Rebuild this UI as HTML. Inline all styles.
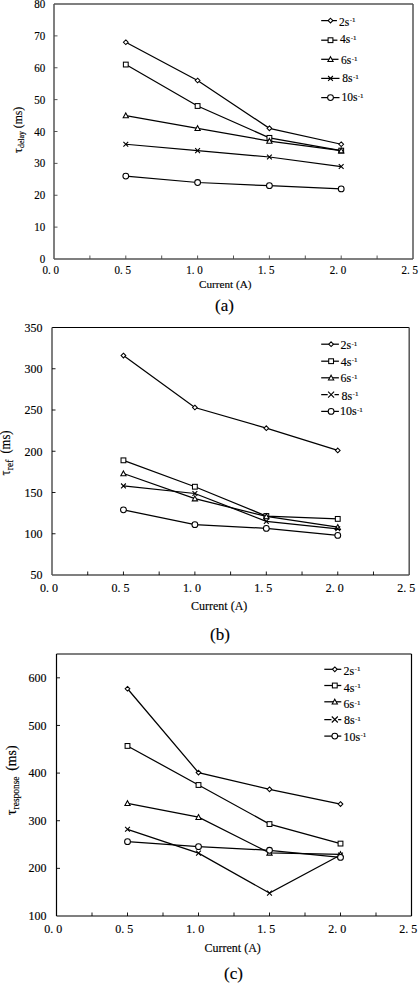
<!DOCTYPE html>
<html><head><meta charset="utf-8"><style>
html,body{margin:0;padding:0;background:#fff;}
body{width:419px;height:985px;overflow:hidden;}
svg{display:block;font-family:"Liberation Serif", serif;}
text{stroke:#000;stroke-width:0.15px;}
</style></head><body>
<svg width="419" height="985" viewBox="0 0 419 985" fill="#000">
<path d="M125.80 42.25L197.60 80.50L269.40 128.31L341.20 144.25" fill="none" stroke="#000" stroke-width="1.25"/>
<path d="M125.80 39.90L128.15 42.25L125.80 44.60L123.45 42.25Z" fill="#fff" stroke="#000" stroke-width="1.05"/>
<path d="M197.60 78.15L199.95 80.50L197.60 82.85L195.25 80.50Z" fill="#fff" stroke="#000" stroke-width="1.05"/>
<path d="M269.40 125.96L271.75 128.31L269.40 130.66L267.05 128.31Z" fill="#fff" stroke="#000" stroke-width="1.05"/>
<path d="M341.20 141.90L343.55 144.25L341.20 146.60L338.85 144.25Z" fill="#fff" stroke="#000" stroke-width="1.05"/>
<path d="M125.80 64.56L197.60 106.00L269.40 137.88L341.20 150.62" fill="none" stroke="#000" stroke-width="1.25"/>
<rect x="123.40" y="62.16" width="4.80" height="4.80" fill="#fff" stroke="#000" stroke-width="1.05"/>
<rect x="195.20" y="103.60" width="4.80" height="4.80" fill="#fff" stroke="#000" stroke-width="1.05"/>
<rect x="267.00" y="135.47" width="4.80" height="4.80" fill="#fff" stroke="#000" stroke-width="1.05"/>
<rect x="338.80" y="148.22" width="4.80" height="4.80" fill="#fff" stroke="#000" stroke-width="1.05"/>
<path d="M125.80 115.56L197.60 128.31L269.40 141.06L341.20 150.62" fill="none" stroke="#000" stroke-width="1.25"/>
<path d="M125.80 112.91L128.45 117.81L123.15 117.81Z" fill="#fff" stroke="#000" stroke-width="1.05"/>
<path d="M197.60 125.66L200.25 130.56L194.95 130.56Z" fill="#fff" stroke="#000" stroke-width="1.05"/>
<path d="M269.40 138.41L272.05 143.31L266.75 143.31Z" fill="#fff" stroke="#000" stroke-width="1.05"/>
<path d="M341.20 147.97L343.85 152.88L338.55 152.88Z" fill="#fff" stroke="#000" stroke-width="1.05"/>
<path d="M125.80 144.25L197.60 150.62L269.40 157.00L341.20 166.56" fill="none" stroke="#000" stroke-width="1.25"/>
<path d="M123.40 141.85L128.20 146.65M128.20 141.85L123.40 146.65" fill="none" stroke="#000" stroke-width="1.1"/>
<path d="M195.20 148.22L200.00 153.03M200.00 148.22L195.20 153.03" fill="none" stroke="#000" stroke-width="1.1"/>
<path d="M267.00 154.60L271.80 159.40M271.80 154.60L267.00 159.40" fill="none" stroke="#000" stroke-width="1.1"/>
<path d="M338.80 164.16L343.60 168.96M343.60 164.16L338.80 168.96" fill="none" stroke="#000" stroke-width="1.1"/>
<path d="M125.80 176.12L197.60 182.50L269.40 185.69L341.20 188.88" fill="none" stroke="#000" stroke-width="1.25"/>
<circle cx="125.80" cy="176.12" r="2.90" fill="#fff" stroke="#000" stroke-width="1.05"/>
<circle cx="197.60" cy="182.50" r="2.90" fill="#fff" stroke="#000" stroke-width="1.05"/>
<circle cx="269.40" cy="185.69" r="2.90" fill="#fff" stroke="#000" stroke-width="1.05"/>
<circle cx="341.20" cy="188.88" r="2.90" fill="#fff" stroke="#000" stroke-width="1.05"/>
<path d="M54 4H413" stroke="#555" stroke-width="1.5" fill="none"/>
<path d="M54 259H413" stroke="#555" stroke-width="1.5" fill="none"/>
<path d="M54 4V259" stroke="#555" stroke-width="1.5" fill="none"/>
<path d="M413 4V259" stroke="#555" stroke-width="1.5" fill="none"/>
<text transform="translate(45.30 263.10) scale(1 1.1)" text-anchor="end" font-size="11">0</text>
<path d="M54 227.12h3.5" stroke="#444" stroke-width="0.9" fill="none"/>
<text transform="translate(45.30 231.22) scale(1 1.1)" text-anchor="end" font-size="11">10</text>
<path d="M54 195.25h3.5" stroke="#444" stroke-width="0.9" fill="none"/>
<text transform="translate(45.30 199.35) scale(1 1.1)" text-anchor="end" font-size="11">20</text>
<path d="M54 163.38h3.5" stroke="#444" stroke-width="0.9" fill="none"/>
<text transform="translate(45.30 167.47) scale(1 1.1)" text-anchor="end" font-size="11">30</text>
<path d="M54 131.50h3.5" stroke="#444" stroke-width="0.9" fill="none"/>
<text transform="translate(45.30 135.60) scale(1 1.1)" text-anchor="end" font-size="11">40</text>
<path d="M54 99.62h3.5" stroke="#444" stroke-width="0.9" fill="none"/>
<text transform="translate(45.30 103.72) scale(1 1.1)" text-anchor="end" font-size="11">50</text>
<path d="M54 67.75h3.5" stroke="#444" stroke-width="0.9" fill="none"/>
<text transform="translate(45.30 71.85) scale(1 1.1)" text-anchor="end" font-size="11">60</text>
<path d="M54 35.88h3.5" stroke="#444" stroke-width="0.9" fill="none"/>
<text transform="translate(45.30 39.98) scale(1 1.1)" text-anchor="end" font-size="11">70</text>
<text transform="translate(45.30 8.10) scale(1 1.1)" text-anchor="end" font-size="11">80</text>
<path d="M89.90 259v-3.5" stroke="#444" stroke-width="0.9" fill="none"/>
<path d="M125.80 259v-3.5" stroke="#444" stroke-width="0.9" fill="none"/>
<path d="M161.70 259v-3.5" stroke="#444" stroke-width="0.9" fill="none"/>
<path d="M197.60 259v-3.5" stroke="#444" stroke-width="0.9" fill="none"/>
<path d="M233.50 259v-3.5" stroke="#444" stroke-width="0.9" fill="none"/>
<path d="M269.40 259v-3.5" stroke="#444" stroke-width="0.9" fill="none"/>
<path d="M305.30 259v-3.5" stroke="#444" stroke-width="0.9" fill="none"/>
<path d="M341.20 259v-3.5" stroke="#444" stroke-width="0.9" fill="none"/>
<path d="M377.10 259v-3.5" stroke="#444" stroke-width="0.9" fill="none"/>
<text transform="translate(42.60 274.30) scale(1 1.1)" font-size="11" xml:space="preserve">0. 0</text>
<text transform="translate(114.40 274.30) scale(1 1.1)" font-size="11" xml:space="preserve">0. 5</text>
<text transform="translate(186.20 274.30) scale(1 1.1)" font-size="11" xml:space="preserve">1. 0</text>
<text transform="translate(258.00 274.30) scale(1 1.1)" font-size="11" xml:space="preserve">1. 5</text>
<text transform="translate(329.80 274.30) scale(1 1.1)" font-size="11" xml:space="preserve">2. 0</text>
<text transform="translate(401.60 274.30) scale(1 1.1)" font-size="11" xml:space="preserve">2. 5</text>
<text x="199" y="287.5" font-size="11.2">Current (A)</text>
<text x="215" y="311" font-size="17">(a)</text>
<text transform="translate(21.6,153.1) rotate(-90) scale(1 1.08)" font-size="12" xml:space="preserve">&#964;<tspan font-size="7.8" dy="2.5" dx="0.3">delay</tspan><tspan font-size="11.7" dy="-2.5" dx="0"> (ms)</tspan></text>
<path d="M321.2 20.6H336.9" stroke="#000" stroke-width="1.25" fill="none"/>
<path d="M330.50 18.25L332.85 20.60L330.50 22.95L328.15 20.60Z" fill="#fff" stroke="#000" stroke-width="1.05"/>
<text x="339.0" y="25.5" font-size="11.5">2s<tspan font-size="7" dy="-3.1" dx="0.4">-1</tspan></text>
<path d="M321.2 40.2H337.4" stroke="#000" stroke-width="1.25" fill="none"/>
<rect x="328.10" y="37.80" width="4.80" height="4.80" fill="#fff" stroke="#000" stroke-width="1.05"/>
<text x="340.1" y="42.900000000000006" font-size="11.5">4s<tspan font-size="7" dy="-3.1" dx="0.4">-1</tspan></text>
<path d="M321.2 59.3H338.5" stroke="#000" stroke-width="1.25" fill="none"/>
<path d="M330.50 56.65L333.15 61.55L327.85 61.55Z" fill="#fff" stroke="#000" stroke-width="1.05"/>
<text x="341.1" y="63.599999999999994" font-size="11.5">6s<tspan font-size="7" dy="-3.1" dx="0.4">-1</tspan></text>
<path d="M321.2 78.4H339.5" stroke="#000" stroke-width="1.25" fill="none"/>
<path d="M328.10 76.00L332.90 80.80M332.90 76.00L328.10 80.80" fill="none" stroke="#000" stroke-width="1.1"/>
<text x="342.3" y="81.80000000000001" font-size="11.5">8s<tspan font-size="7" dy="-3.1" dx="0.4">-1</tspan></text>
<path d="M321.2 97.6H339.5" stroke="#000" stroke-width="1.25" fill="none"/>
<circle cx="330.50" cy="97.60" r="2.90" fill="#fff" stroke="#000" stroke-width="1.05"/>
<text x="341.4" y="100.69999999999999" font-size="11.5">10s<tspan font-size="7" dy="-3.1" dx="0.4">-1</tspan></text>
<path d="M123.44 355.55L194.88 407.52L266.32 428.15L337.76 450.43" fill="none" stroke="#000" stroke-width="1.25"/>
<path d="M123.44 353.20L125.79 355.55L123.44 357.90L121.09 355.55Z" fill="#fff" stroke="#000" stroke-width="1.05"/>
<path d="M194.88 405.17L197.23 407.52L194.88 409.88L192.53 407.52Z" fill="#fff" stroke="#000" stroke-width="1.05"/>
<path d="M266.32 425.80L268.67 428.15L266.32 430.50L263.97 428.15Z" fill="#fff" stroke="#000" stroke-width="1.05"/>
<path d="M337.76 448.07L340.11 450.43L337.76 452.78L335.41 450.43Z" fill="#fff" stroke="#000" stroke-width="1.05"/>
<path d="M123.44 460.32L194.88 486.73L266.32 516.01L337.76 518.90" fill="none" stroke="#000" stroke-width="1.25"/>
<rect x="121.04" y="457.93" width="4.80" height="4.80" fill="#fff" stroke="#000" stroke-width="1.05"/>
<rect x="192.48" y="484.33" width="4.80" height="4.80" fill="#fff" stroke="#000" stroke-width="1.05"/>
<rect x="263.92" y="513.61" width="4.80" height="4.80" fill="#fff" stroke="#000" stroke-width="1.05"/>
<rect x="335.36" y="516.50" width="4.80" height="4.80" fill="#fff" stroke="#000" stroke-width="1.05"/>
<path d="M123.44 473.52L194.88 498.61L266.32 516.42L337.76 527.15" fill="none" stroke="#000" stroke-width="1.25"/>
<path d="M123.44 470.88L126.09 475.78L120.79 475.78Z" fill="#fff" stroke="#000" stroke-width="1.05"/>
<path d="M194.88 495.96L197.53 500.86L192.23 500.86Z" fill="#fff" stroke="#000" stroke-width="1.05"/>
<path d="M266.32 513.77L268.97 518.68L263.67 518.68Z" fill="#fff" stroke="#000" stroke-width="1.05"/>
<path d="M337.76 524.50L340.41 529.40L335.11 529.40Z" fill="#fff" stroke="#000" stroke-width="1.05"/>
<path d="M123.44 485.90L194.88 493.49L266.32 521.38L337.76 528.80" fill="none" stroke="#000" stroke-width="1.25"/>
<path d="M121.04 483.50L125.84 488.30M125.84 483.50L121.04 488.30" fill="none" stroke="#000" stroke-width="1.1"/>
<path d="M192.48 491.09L197.28 495.89M197.28 491.09L192.48 495.89" fill="none" stroke="#000" stroke-width="1.1"/>
<path d="M263.92 518.98L268.72 523.77M268.72 518.98L263.92 523.77" fill="none" stroke="#000" stroke-width="1.1"/>
<path d="M335.36 526.40L340.16 531.20M340.16 526.40L335.36 531.20" fill="none" stroke="#000" stroke-width="1.1"/>
<path d="M123.44 509.82L194.88 524.67L266.32 528.39L337.76 535.40" fill="none" stroke="#000" stroke-width="1.25"/>
<circle cx="123.44" cy="509.82" r="2.90" fill="#fff" stroke="#000" stroke-width="1.05"/>
<circle cx="194.88" cy="524.67" r="2.90" fill="#fff" stroke="#000" stroke-width="1.05"/>
<circle cx="266.32" cy="528.39" r="2.90" fill="#fff" stroke="#000" stroke-width="1.05"/>
<circle cx="337.76" cy="535.40" r="2.90" fill="#fff" stroke="#000" stroke-width="1.05"/>
<path d="M52 327.5H409.2" stroke="#000" stroke-width="1.2" fill="none"/>
<path d="M52 575H409.2" stroke="#555" stroke-width="1.5" fill="none"/>
<path d="M52 327.5V575" stroke="#555" stroke-width="1.5" fill="none"/>
<path d="M409.2 327.5V575" stroke="#555" stroke-width="1.5" fill="none"/>
<text transform="translate(42.40 579.30) scale(1 1.1)" text-anchor="end" font-size="12">50</text>
<path d="M52 533.75h3.5" stroke="#000" stroke-width="0.9" fill="none"/>
<text transform="translate(42.40 538.05) scale(1 1.1)" text-anchor="end" font-size="12">100</text>
<path d="M52 492.50h3.5" stroke="#000" stroke-width="0.9" fill="none"/>
<text transform="translate(42.40 496.80) scale(1 1.1)" text-anchor="end" font-size="12">150</text>
<path d="M52 451.25h3.5" stroke="#000" stroke-width="0.9" fill="none"/>
<text transform="translate(42.40 455.55) scale(1 1.1)" text-anchor="end" font-size="12">200</text>
<path d="M52 410.00h3.5" stroke="#000" stroke-width="0.9" fill="none"/>
<text transform="translate(42.40 414.30) scale(1 1.1)" text-anchor="end" font-size="12">250</text>
<path d="M52 368.75h3.5" stroke="#000" stroke-width="0.9" fill="none"/>
<text transform="translate(42.40 373.05) scale(1 1.1)" text-anchor="end" font-size="12">300</text>
<text transform="translate(42.40 331.80) scale(1 1.1)" text-anchor="end" font-size="12">350</text>
<path d="M87.72 575v-3.5" stroke="#000" stroke-width="0.9" fill="none"/>
<path d="M123.44 575v-3.5" stroke="#000" stroke-width="0.9" fill="none"/>
<path d="M159.16 575v-3.5" stroke="#000" stroke-width="0.9" fill="none"/>
<path d="M194.88 575v-3.5" stroke="#000" stroke-width="0.9" fill="none"/>
<path d="M230.60 575v-3.5" stroke="#000" stroke-width="0.9" fill="none"/>
<path d="M266.32 575v-3.5" stroke="#000" stroke-width="0.9" fill="none"/>
<path d="M302.04 575v-3.5" stroke="#000" stroke-width="0.9" fill="none"/>
<path d="M337.76 575v-3.5" stroke="#000" stroke-width="0.9" fill="none"/>
<path d="M373.48 575v-3.5" stroke="#000" stroke-width="0.9" fill="none"/>
<text transform="translate(40.00 591.80) scale(1 1.1)" font-size="12" xml:space="preserve">0. 0</text>
<text transform="translate(111.44 591.80) scale(1 1.1)" font-size="12" xml:space="preserve">0. 5</text>
<text transform="translate(182.88 591.80) scale(1 1.1)" font-size="12" xml:space="preserve">1. 0</text>
<text transform="translate(254.32 591.80) scale(1 1.1)" font-size="12" xml:space="preserve">1. 5</text>
<text transform="translate(325.76 591.80) scale(1 1.1)" font-size="12" xml:space="preserve">2. 0</text>
<text transform="translate(397.20 591.80) scale(1 1.1)" font-size="12" xml:space="preserve">2. 5</text>
<text x="191" y="610" font-size="12">Current (A)</text>
<text x="210" y="640" font-size="17">(b)</text>
<text transform="translate(9.6,475.5) rotate(-90) scale(1 1.08)" font-size="12.6" xml:space="preserve">&#964;<tspan font-size="9.4" dy="3.0" dx="0.3">ref</tspan><tspan font-size="12.6" dy="-3.0" dx="3"> (ms)</tspan></text>
<path d="M321.2 344.2H338.9" stroke="#000" stroke-width="1.25" fill="none"/>
<path d="M331.10 341.85L333.45 344.20L331.10 346.55L328.75 344.20Z" fill="#fff" stroke="#000" stroke-width="1.05"/>
<text x="340.4" y="349.3" font-size="12">2s<tspan font-size="7" dy="-3.4" dx="0.4">-1</tspan></text>
<path d="M321.2 361.2H338.9" stroke="#000" stroke-width="1.25" fill="none"/>
<rect x="328.70" y="358.80" width="4.80" height="4.80" fill="#fff" stroke="#000" stroke-width="1.05"/>
<text x="340.7" y="365.5" font-size="12">4s<tspan font-size="7" dy="-3.4" dx="0.4">-1</tspan></text>
<path d="M321.2 377.8H338.9" stroke="#000" stroke-width="1.25" fill="none"/>
<path d="M331.10 375.15L333.75 380.05L328.45 380.05Z" fill="#fff" stroke="#000" stroke-width="1.05"/>
<text x="340.6" y="382.3" font-size="12">6s<tspan font-size="7" dy="-3.4" dx="0.4">-1</tspan></text>
<path d="M321.2 394.6H327.70M334.50 394.6H338.9" stroke="#000" stroke-width="1.25" fill="none"/>
<path d="M328.10 391.60L334.10 397.60M334.10 391.60L328.10 397.60" fill="none" stroke="#000" stroke-width="1.1"/>
<text x="341.5" y="399.5" font-size="12">8s<tspan font-size="7" dy="-3.4" dx="0.4">-1</tspan></text>
<path d="M321.2 411.4H338.9" stroke="#000" stroke-width="1.25" fill="none"/>
<circle cx="331.10" cy="411.40" r="2.90" fill="#fff" stroke="#000" stroke-width="1.05"/>
<text x="339.9" y="415.4" font-size="12">10s<tspan font-size="7" dy="-3.4" dx="0.4">-1</tspan></text>
<path d="M127.50 688.77L198.50 772.61L269.50 789.29L340.50 804.05" fill="none" stroke="#000" stroke-width="1.25"/>
<path d="M127.50 686.42L129.85 688.77L127.50 691.12L125.15 688.77Z" fill="#fff" stroke="#000" stroke-width="1.05"/>
<path d="M198.50 770.26L200.85 772.61L198.50 774.96L196.15 772.61Z" fill="#fff" stroke="#000" stroke-width="1.05"/>
<path d="M269.50 786.94L271.85 789.29L269.50 791.64L267.15 789.29Z" fill="#fff" stroke="#000" stroke-width="1.05"/>
<path d="M340.50 801.70L342.85 804.05L340.50 806.40L338.15 804.05Z" fill="#fff" stroke="#000" stroke-width="1.05"/>
<path d="M127.50 745.94L198.50 785.00L269.50 824.06L340.50 843.59" fill="none" stroke="#000" stroke-width="1.25"/>
<rect x="125.10" y="743.54" width="4.80" height="4.80" fill="#fff" stroke="#000" stroke-width="1.05"/>
<rect x="196.10" y="782.60" width="4.80" height="4.80" fill="#fff" stroke="#000" stroke-width="1.05"/>
<rect x="267.10" y="821.66" width="4.80" height="4.80" fill="#fff" stroke="#000" stroke-width="1.05"/>
<rect x="338.10" y="841.19" width="4.80" height="4.80" fill="#fff" stroke="#000" stroke-width="1.05"/>
<path d="M127.50 803.34L198.50 817.15L269.50 852.88L340.50 854.31" fill="none" stroke="#000" stroke-width="1.25"/>
<path d="M127.50 800.69L130.15 805.59L124.85 805.59Z" fill="#fff" stroke="#000" stroke-width="1.05"/>
<path d="M198.50 814.50L201.15 819.41L195.85 819.41Z" fill="#fff" stroke="#000" stroke-width="1.05"/>
<path d="M269.50 850.23L272.15 855.13L266.85 855.13Z" fill="#fff" stroke="#000" stroke-width="1.05"/>
<path d="M340.50 851.66L343.15 856.56L337.85 856.56Z" fill="#fff" stroke="#000" stroke-width="1.05"/>
<path d="M127.50 829.30L198.50 853.12L269.50 893.13L340.50 855.03" fill="none" stroke="#000" stroke-width="1.25"/>
<path d="M125.10 826.90L129.90 831.70M129.90 826.90L125.10 831.70" fill="none" stroke="#000" stroke-width="1.1"/>
<path d="M196.10 850.72L200.90 855.52M200.90 850.72L196.10 855.52" fill="none" stroke="#000" stroke-width="1.1"/>
<path d="M267.10 890.73L271.90 895.53M271.90 890.73L267.10 895.53" fill="none" stroke="#000" stroke-width="1.1"/>
<path d="M338.10 852.63L342.90 857.43M342.90 852.63L338.10 857.43" fill="none" stroke="#000" stroke-width="1.1"/>
<path d="M127.50 841.69L198.50 846.69L269.50 850.26L340.50 857.41" fill="none" stroke="#000" stroke-width="1.25"/>
<circle cx="127.50" cy="841.69" r="2.90" fill="#fff" stroke="#000" stroke-width="1.05"/>
<circle cx="198.50" cy="846.69" r="2.90" fill="#fff" stroke="#000" stroke-width="1.05"/>
<circle cx="269.50" cy="850.26" r="2.90" fill="#fff" stroke="#000" stroke-width="1.05"/>
<circle cx="340.50" cy="857.41" r="2.90" fill="#fff" stroke="#000" stroke-width="1.05"/>
<path d="M56.5 654H411.5" stroke="#555" stroke-width="1.5" fill="none"/>
<path d="M56.5 916H411.5" stroke="#555" stroke-width="1.5" fill="none"/>
<path d="M56.5 654V916" stroke="#000" stroke-width="1.2" fill="none"/>
<path d="M411.5 654V916" stroke="#000" stroke-width="1.2" fill="none"/>
<text transform="translate(46.50 920.10) scale(1 1.1)" text-anchor="end" font-size="12">100</text>
<path d="M56.5 868.36h3.5" stroke="#000" stroke-width="0.9" fill="none"/>
<text transform="translate(46.50 872.46) scale(1 1.1)" text-anchor="end" font-size="12">200</text>
<path d="M56.5 820.73h3.5" stroke="#000" stroke-width="0.9" fill="none"/>
<text transform="translate(46.50 824.83) scale(1 1.1)" text-anchor="end" font-size="12">300</text>
<path d="M56.5 773.09h3.5" stroke="#000" stroke-width="0.9" fill="none"/>
<text transform="translate(46.50 777.19) scale(1 1.1)" text-anchor="end" font-size="12">400</text>
<path d="M56.5 725.45h3.5" stroke="#000" stroke-width="0.9" fill="none"/>
<text transform="translate(46.50 729.55) scale(1 1.1)" text-anchor="end" font-size="12">500</text>
<path d="M56.5 677.82h3.5" stroke="#000" stroke-width="0.9" fill="none"/>
<text transform="translate(46.50 681.92) scale(1 1.1)" text-anchor="end" font-size="12">600</text>
<path d="M92.00 916v-3.5" stroke="#000" stroke-width="0.9" fill="none"/>
<path d="M127.50 916v-3.5" stroke="#000" stroke-width="0.9" fill="none"/>
<path d="M163.00 916v-3.5" stroke="#000" stroke-width="0.9" fill="none"/>
<path d="M198.50 916v-3.5" stroke="#000" stroke-width="0.9" fill="none"/>
<path d="M234.00 916v-3.5" stroke="#000" stroke-width="0.9" fill="none"/>
<path d="M269.50 916v-3.5" stroke="#000" stroke-width="0.9" fill="none"/>
<path d="M305.00 916v-3.5" stroke="#000" stroke-width="0.9" fill="none"/>
<path d="M340.50 916v-3.5" stroke="#000" stroke-width="0.9" fill="none"/>
<path d="M376.00 916v-3.5" stroke="#000" stroke-width="0.9" fill="none"/>
<text transform="translate(44.20 932.50) scale(1 1.1)" font-size="12" xml:space="preserve">0. 0</text>
<text transform="translate(115.20 932.50) scale(1 1.1)" font-size="12" xml:space="preserve">0. 5</text>
<text transform="translate(186.20 932.50) scale(1 1.1)" font-size="12" xml:space="preserve">1. 0</text>
<text transform="translate(257.20 932.50) scale(1 1.1)" font-size="12" xml:space="preserve">1. 5</text>
<text transform="translate(328.20 932.50) scale(1 1.1)" font-size="12" xml:space="preserve">2. 0</text>
<text transform="translate(399.20 932.50) scale(1 1.1)" font-size="12" xml:space="preserve">2. 5</text>
<text x="204.5" y="951.7" font-size="12">Current (A)</text>
<text x="224" y="979" font-size="17">(c)</text>
<text transform="translate(15.9,815.3) rotate(-90) scale(1 1.08)" font-size="14" xml:space="preserve">&#964;<tspan font-size="9.4" dy="3.0" dx="0.3">response</tspan><tspan font-size="13.8" dy="-3.0" dx="2.3"> (ms)</tspan></text>
<path d="M324.3 669.3H341.3" stroke="#000" stroke-width="1.25" fill="none"/>
<path d="M334.80 666.95L337.15 669.30L334.80 671.65L332.45 669.30Z" fill="#fff" stroke="#000" stroke-width="1.05"/>
<text x="343.5" y="674.5" font-size="12">2s<tspan font-size="7" dy="-3.4" dx="0.4">-1</tspan></text>
<path d="M324.3 685.5H341.3" stroke="#000" stroke-width="1.25" fill="none"/>
<rect x="332.40" y="683.10" width="4.80" height="4.80" fill="#fff" stroke="#000" stroke-width="1.05"/>
<text x="343.8" y="691.8" font-size="12">4s<tspan font-size="7" dy="-3.4" dx="0.4">-1</tspan></text>
<path d="M324.3 701.8H341.3" stroke="#000" stroke-width="1.25" fill="none"/>
<path d="M334.80 699.15L337.45 704.05L332.15 704.05Z" fill="#fff" stroke="#000" stroke-width="1.05"/>
<text x="343.5" y="708.0999999999999" font-size="12">6s<tspan font-size="7" dy="-3.4" dx="0.4">-1</tspan></text>
<path d="M324.3 719.5H331.50M338.10 719.5H341.3" stroke="#000" stroke-width="1.25" fill="none"/>
<path d="M331.80 716.50L337.80 722.50M337.80 716.50L331.80 722.50" fill="none" stroke="#000" stroke-width="1.1"/>
<text x="343.9" y="724.3" font-size="12">8s<tspan font-size="7" dy="-3.4" dx="0.4">-1</tspan></text>
<path d="M324.3 736.1H341.3" stroke="#000" stroke-width="1.25" fill="none"/>
<circle cx="334.80" cy="736.10" r="2.90" fill="#fff" stroke="#000" stroke-width="1.05"/>
<text x="343.4" y="740.5" font-size="12">10s<tspan font-size="7" dy="-3.4" dx="0.4">-1</tspan></text>
</svg>
</body></html>
